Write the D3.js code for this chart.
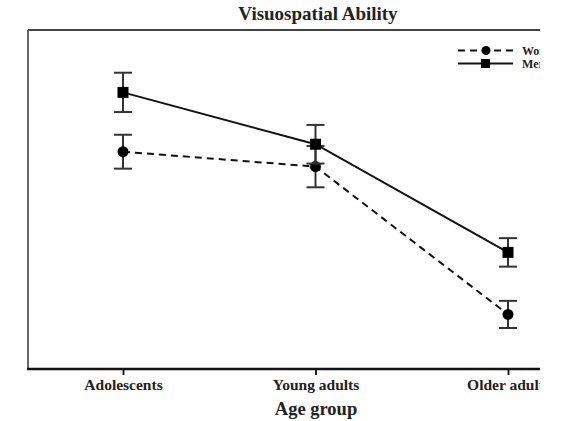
<!DOCTYPE html>
<html><head><meta charset="utf-8">
<script src="https://cdn.jsdelivr.net/npm/d3@7"></script>
<style>body{margin:0;background:#fff;} svg{display:block;}</style>
</head><body>
<script>
const categories = ["Adolescents", "Young adults", "Older adults"];
const seriesNames = ["Women", "Men"];
const womenMean = [64.1, 59.7, 16.1];
const womenErr  = [5.0, 6.1, 4.0];
const menMean   = [81.6, 66.3, 34.4];
const menErr    = [5.8, 5.7, 4.2];
const title = "Visuospatial Ability";
const xTitle = "Age group";

(function () {
const W = 562, H = 421;
const svg = d3.select("body").append("svg").attr("width", W).attr("height", H);
const font = "'Liberation Serif', 'Times New Roman', serif";

svg.append("defs").append("clipPath").attr("id", "crop")
  .append("rect").attr("x", 0).attr("y", 0).attr("width", 540).attr("height", H);
const root = svg.append("g").attr("clip-path", "url(#crop)");

const pLeft = 28, pTop = 30, pBottom = 369, pRight = 640;
const y = d3.scaleLinear().domain([0, 100]).range([pBottom, pTop]);
const x = d3.scalePoint().domain(categories).range([123, 508]);

// frame
root.append("line").attr("x1", pLeft).attr("x2", pRight).attr("y1", pTop).attr("y2", pTop)
  .attr("stroke", "#444").attr("stroke-width", 2.2);
root.append("line").attr("x1", pLeft).attr("x2", pLeft).attr("y1", pTop).attr("y2", pBottom)
  .attr("stroke", "#666").attr("stroke-width", 2);

// x axis
const axis = d3.axisBottom(x).tickSize(6).tickPadding(9).tickSizeOuter(0);
const gx = root.append("g").attr("transform", `translate(0,${pBottom})`).call(axis);
gx.select(".domain").remove();
gx.append("line").attr("x1", pLeft - 1).attr("x2", pRight).attr("y1", 0).attr("y2", 0)
  .attr("stroke", "#111").attr("stroke-width", 2.4);
gx.selectAll(".tick line").attr("stroke", "#222").attr("stroke-width", 2);
gx.selectAll(".tick text").attr("font-family", font).attr("font-weight", "bold")
  .attr("font-size", 15.5).attr("fill", "#222").attr("dy", null).attr("y", 21);

root.append("text").attr("x", 318).attr("y", 20).attr("text-anchor", "middle")
  .attr("font-family", font).attr("font-weight", "bold").attr("font-size", 19)
  .attr("fill", "#222").text(title);
root.append("text").attr("x", 316).attr("y", 415).attr("text-anchor", "middle")
  .attr("font-family", font).attr("font-weight", "bold").attr("font-size", 18.5)
  .attr("fill", "#222").text(xTitle);

const series = [
  {name: seriesNames[0], mean: womenMean, err: womenErr, dash: "7,5", shape: "circle"},
  {name: seriesNames[1], mean: menMean, err: menErr, dash: null, shape: "square"}
];

const line = d3.line().x((d, i) => x(categories[i])).y(d => y(d));

series.forEach(s => {
  const g = root.append("g");
  s.mean.forEach((m, i) => {
    const cx = x(categories[i]);
    const y1 = y(m + s.err[i]), y2 = y(m - s.err[i]);
    g.append("line").attr("x1", cx).attr("x2", cx).attr("y1", y1).attr("y2", y2)
      .attr("stroke", "#333").attr("stroke-width", 2);
    [y1, y2].forEach(yy => g.append("line").attr("x1", cx - 9).attr("x2", cx + 9)
      .attr("y1", yy).attr("y2", yy).attr("stroke", "#333").attr("stroke-width", 2));
  });
  g.append("path").attr("d", line(s.mean)).attr("fill", "none").attr("stroke", "#111")
    .attr("stroke-width", 2).attr("stroke-dasharray", s.dash);
  s.mean.forEach((m, i) => {
    const cx = x(categories[i]), cy = y(m);
    if (s.shape === "circle") g.append("circle").attr("cx", cx).attr("cy", cy).attr("r", 5.5).attr("fill", "#000");
    else g.append("rect").attr("x", cx - 5.5).attr("y", cy - 5.5).attr("width", 11).attr("height", 11).attr("fill", "#000");
  });
});

// legend
const leg = root.append("g");
series.forEach((s, i) => {
  const ly = 50.5 + i * 13;
  leg.append("line").attr("x1", 458).attr("x2", 513).attr("y1", ly).attr("y2", ly)
    .attr("stroke", "#111").attr("stroke-width", 2).attr("stroke-dasharray", s.dash);
  if (s.shape === "circle") leg.append("circle").attr("cx", 486).attr("cy", ly).attr("r", 4.5).attr("fill", "#000");
  else leg.append("rect").attr("x", 481).attr("y", ly - 4.5).attr("width", 9).attr("height", 9).attr("fill", "#000");
  leg.append("text").attr("x", 522).attr("y", ly + 4.2).attr("font-family", font)
    .attr("font-weight", "bold").attr("font-size", 12).attr("fill", "#222").text(s.name);
});
})();
</script>
</body></html>
